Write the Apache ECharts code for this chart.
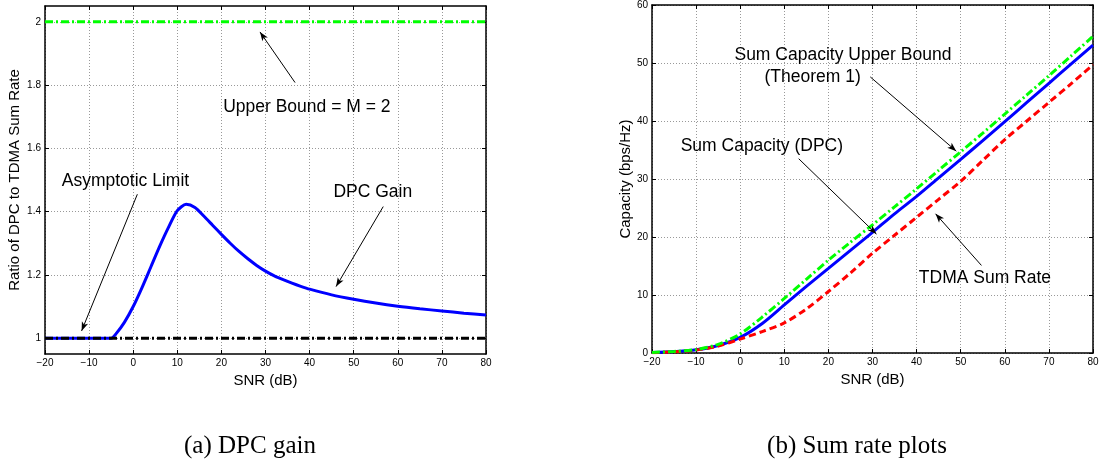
<!DOCTYPE html>
<html>
<head>
<meta charset="utf-8">
<script src="https://cdn.jsdelivr.net/npm/echarts@6/dist/echarts.min.js"></script>
<style>
html, body { margin: 0; padding: 0; background: #fff; }
#chart { width: 1107px; height: 461px; }
</style>
</head>
<body>
<div id="chart"></div>
<script>
// (a) DPC gain
var snrEnds = [-20, 80];
var snrA = [-20, -15, -10, -6, -5, -4, -2, 0, 2, 4, 6, 8, 10, 12, 14, 16, 18, 20, 22, 24, 26, 28, 30, 32, 34, 36, 38, 40, 45, 50, 55, 60, 65, 70, 75, 80];
var gain = [1, 1, 1, 1, 1.0, 1.012, 1.05, 1.10, 1.16, 1.225, 1.29, 1.35, 1.403, 1.423, 1.413, 1.386, 1.357, 1.328, 1.300, 1.274, 1.251, 1.230, 1.212, 1.197, 1.185, 1.174, 1.164, 1.155, 1.137, 1.123, 1.111, 1.101, 1.093, 1.086, 1.079, 1.073];
var limitA = [1, 1];
var boundA = [2, 2];

// (b) Sum rate plots
var snrB = [-20, -15, -10, -5, 0, 5, 10, 15, 20, 25, 30, 35, 40, 45, 50, 55, 60, 65, 70, 75, 80];
var dpc = [0.1, 0.25, 0.55, 1.3, 2.7, 5.1, 8.3, 11.5, 14.6, 17.7, 20.8, 24.0, 27.0, 30.2, 33.4, 36.6, 39.9, 43.2, 46.5, 49.8, 53.1];
var upper = [0.1, 0.27, 0.6, 1.5, 3.3, 6.2, 9.4, 12.7, 16.0, 19.1, 22.1, 25.2, 28.3, 31.5, 34.7, 37.9, 41.2, 44.5, 47.8, 51.2, 54.6];
var tdma = [0.05, 0.2, 0.5, 1.2, 2.4, 3.7, 5.2, 7.6, 10.6, 13.8, 17.2, 20.3, 23.4, 26.5, 29.6, 33.2, 36.8, 40.0, 43.2, 46.4, 49.7];

var yTicksA = [1, 1.2, 1.4, 1.6, 1.8, 2];

function pairs(xs, ys) {
    var out = [];
    for (var i = 0; i < xs.length; i++) out.push([xs[i], ys[i]]);
    return out;
}

var chart = echarts.init(document.getElementById('chart'));

var sans = '"Liberation Sans", Arial, sans-serif';
var dashDot = [8, 3, 2, 3];

function minus(v) { return String(v).replace('-', '\u2212'); }

function xAx(grid, pos) {
    var main = pos === 'bottom';
    return {
        type: 'value', gridIndex: grid, position: pos, min: -20, max: 80, interval: 10,
        name: main ? 'SNR (dB)' : '', nameLocation: 'middle', nameGap: 17,
        nameTextStyle: { fontFamily: sans, fontSize: 15, color: '#000' },
        axisLine: { show: true, onZero: false, lineStyle: { color: '#000', width: 1.5 } },
        axisTick: { show: true, inside: true, length: 4, lineStyle: { color: '#000' } },
        axisLabel: { show: main, fontFamily: sans, fontSize: 10, color: '#000', margin: 4, formatter: minus },
        splitLine: { show: main, lineStyle: { color: '#999', type: [1, 2] } }
    };
}

function yAx(grid, pos, min, max, opts) {
    var main = pos === 'left';
    var ax = {
        type: 'value', gridIndex: grid, position: pos, min: min, max: max,
        name: main ? opts.name : '', nameLocation: 'middle', nameGap: opts.gap,
        nameTextStyle: { fontFamily: sans, fontSize: 15, color: '#000' },
        axisLine: { show: true, onZero: false, lineStyle: { color: '#000', width: 1.5 } },
        axisTick: { show: true, inside: true, length: 4, lineStyle: { color: '#000' } },
        axisLabel: { show: main, fontFamily: sans, fontSize: 10, color: '#000', margin: 4 },
        splitLine: { show: main, lineStyle: { color: '#999', type: [1, 2] } }
    };
    if (opts.interval) ax.interval = opts.interval;
    if (opts.ticks) {
        ax.axisTick.customValues = opts.ticks;
        ax.axisLabel.customValues = opts.ticks;
    }
    return ax;
}

var arrowStyle = {
    silent: true, symbol: ['none', 'arrow'], symbolSize: [5, 9],
    label: { show: false },
    lineStyle: { color: '#000', width: 1, type: 'solid' },
    emphasis: { disabled: true }
};

function arrows(list) {
    var m = Object.assign({}, arrowStyle);
    m.data = list.map(function (a) { return [{ coord: a[0] }, { coord: a[1] }]; });
    return m;
}

var option = {
    animation: false,
    backgroundColor: '#fff',
    grid: [
        { left: 45, top: 6, width: 441, height: 348 },
        { left: 652, top: 5, width: 441, height: 348 }
    ],
    xAxis: [xAx(0, 'bottom'), xAx(0, 'top'), xAx(1, 'bottom'), xAx(1, 'top')],
    yAxis: [
        yAx(0, 'left', 0.95, 2.05, { name: 'Ratio of DPC to TDMA Sum Rate', gap: 23, ticks: yTicksA }),
        yAx(0, 'right', 0.95, 2.05, { ticks: yTicksA }),
        yAx(1, 'left', 0, 60, { name: 'Capacity (bps/Hz)', gap: 19, interval: 10 }),
        yAx(1, 'right', 0, 60, { interval: 10 })
    ],
    series: [
        {
            name: 'DPC Gain', type: 'line', xAxisIndex: 0, yAxisIndex: 0, symbol: 'none',
            smooth: 0.25,
            data: pairs(snrA, gain), lineStyle: { color: '#0000ff', width: 3 }
        },
        {
            name: 'Upper Bound', type: 'line', xAxisIndex: 0, yAxisIndex: 0, symbol: 'none',
            data: pairs(snrEnds, boundA), lineStyle: { color: '#00ff00', width: 3, type: dashDot }
        },
        {
            name: 'Asymptotic Limit', type: 'line', xAxisIndex: 0, yAxisIndex: 0, symbol: 'none',
            data: pairs(snrEnds, limitA), lineStyle: { color: '#000', width: 3, type: dashDot },
            markLine: arrows([
                [[36.7, 1.808], [28.75, 1.968]],
                [[0.94, 1.455], [-11.7, 1.023]],
                [[56.7, 1.416], [46.0, 1.163]]
            ])
        },
        {
            name: 'Sum Capacity (DPC)', type: 'line', xAxisIndex: 2, yAxisIndex: 2, symbol: 'none',
            smooth: 0.3,
            data: pairs(snrB, dpc), lineStyle: { color: '#0000ff', width: 3 }
        },
        {
            name: 'TDMA Sum Rate', type: 'line', xAxisIndex: 2, yAxisIndex: 2, symbol: 'none',
            smooth: 0.3,
            data: pairs(snrB, tdma), lineStyle: { color: '#ff0000', width: 3, type: [7, 4] }
        },
        {
            name: 'Sum Capacity Upper Bound', type: 'line', xAxisIndex: 2, yAxisIndex: 2, symbol: 'none',
            smooth: 0.3,
            data: pairs(snrB, upper), lineStyle: { color: '#00ff00', width: 3, type: dashDot },
            markLine: arrows([
                [[29.5, 47.6], [49.0, 34.8]],
                [[13.26, 33.5], [30.9, 20.5]],
                [[54.7, 15.1], [44.3, 24.0]]
            ])
        }
    ]
};

chart.setOption(option);

var notes = [
    { grid: 0, at: [20.4, 1.73], text: 'Upper Bound = M = 2' },
    { grid: 0, at: [-16.2, 1.497], text: 'Asymptotic Limit' },
    { grid: 0, at: [45.4, 1.463], text: 'DPC Gain' },
    { grid: 1, at: [-1.3, 51.3], text: 'Sum Capacity Upper Bound' },
    { grid: 1, at: [5.5, 47.6], text: '(Theorem 1)' },
    { grid: 1, at: [-13.5, 35.6], text: 'Sum Capacity (DPC)' },
    { grid: 1, at: [40.5, 12.9], text: 'TDMA Sum Rate' }
];

var graphics = notes.map(function (n) {
    var p = chart.convertToPixel({ gridIndex: n.grid }, n.at);
    return {
        type: 'text', x: p[0], y: p[1], silent: true,
        style: { text: n.text, fontFamily: sans, fontSize: 17.5, fill: '#000', align: 'left', verticalAlign: 'middle' }
    };
});

[['(a) DPC gain', 250], ['(b) Sum rate plots', 857]].forEach(function (c) {
    graphics.push({
        type: 'text', x: c[1], y: 446, silent: true,
        style: { text: c[0], fontFamily: '"Liberation Serif", serif', fontSize: 25, fill: '#000', align: 'center', verticalAlign: 'middle' }
    });
});

chart.setOption({ graphic: graphics });
</script>
</body>
</html>
